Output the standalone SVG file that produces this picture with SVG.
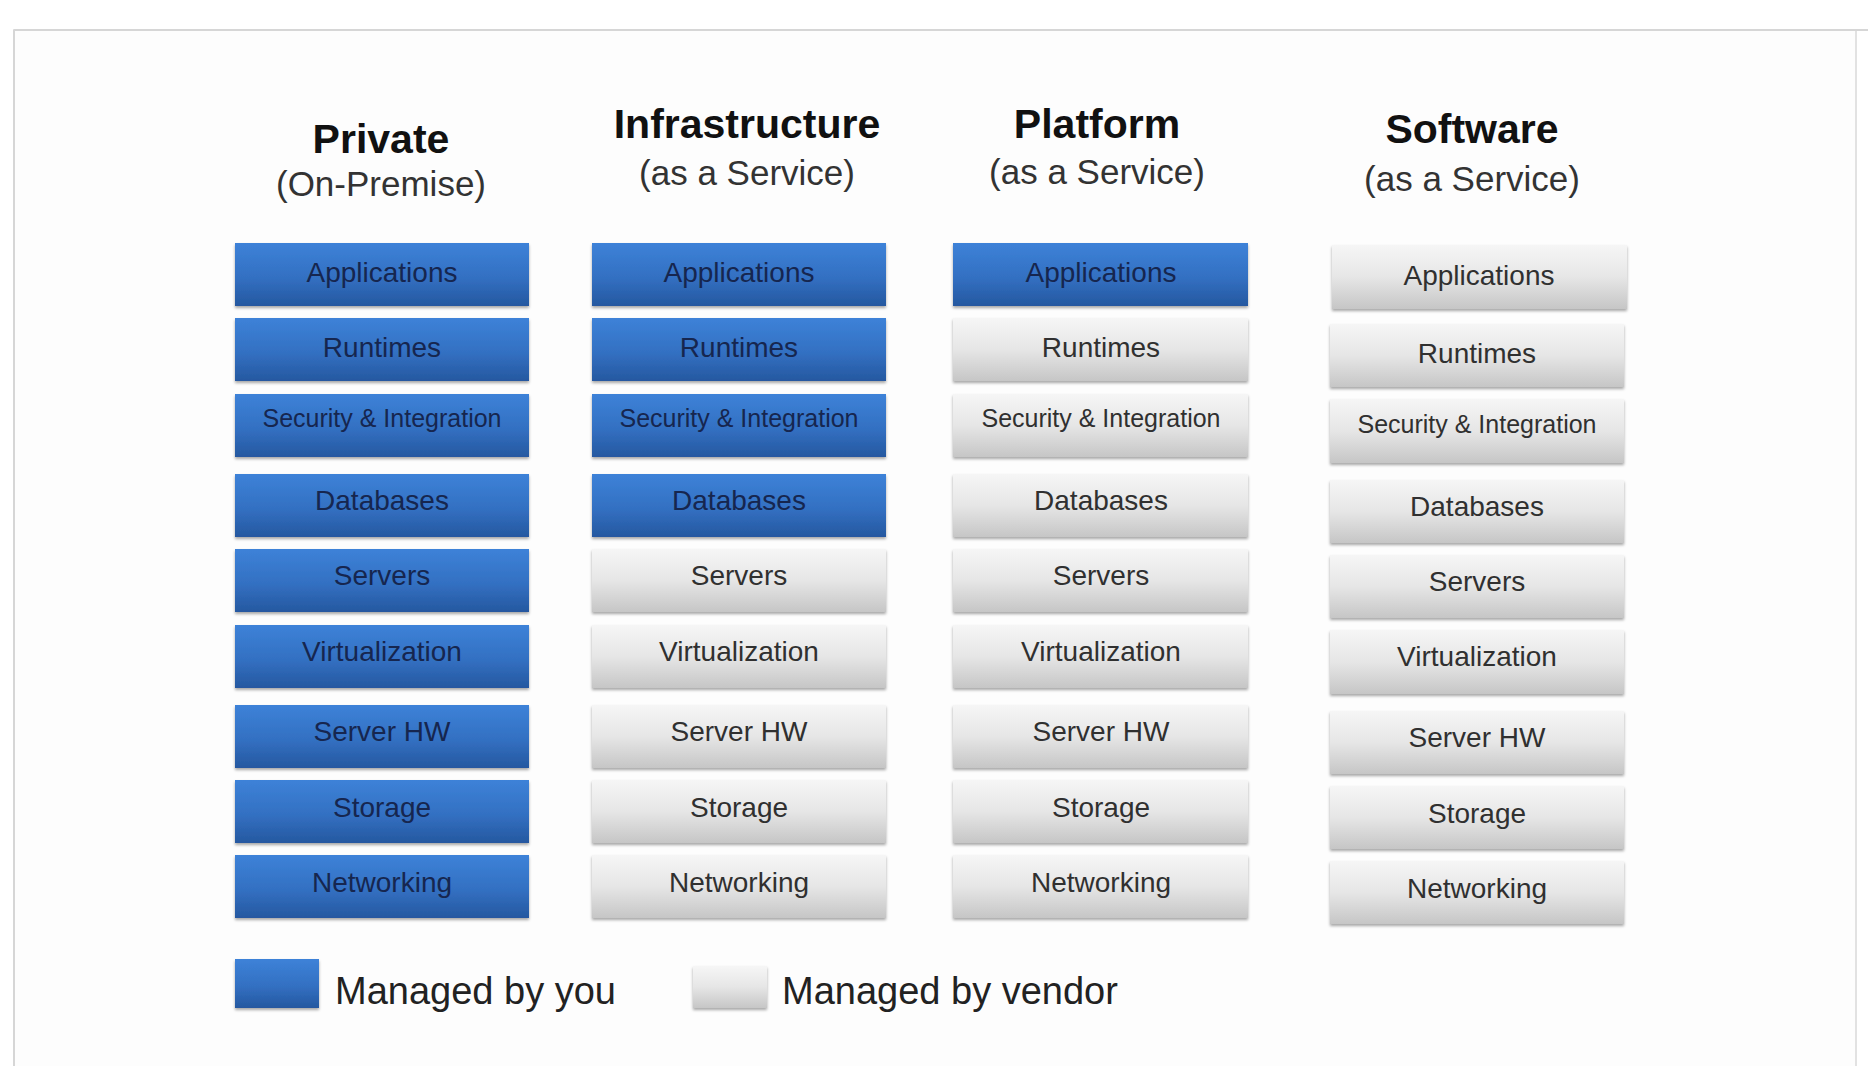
<svg xmlns="http://www.w3.org/2000/svg" width="1868" height="1066" viewBox="0 0 1868 1066">
<defs>
<linearGradient id="gBlue" x1="0" y1="0" x2="0" y2="1">
<stop offset="0" stop-color="#3d82d8"/>
<stop offset="0.55" stop-color="#3370c2"/>
<stop offset="1" stop-color="#2558a0"/>
</linearGradient>
<linearGradient id="gGray" x1="0" y1="0" x2="0" y2="1">
<stop offset="0" stop-color="#f6f6f6"/>
<stop offset="0.5" stop-color="#e6e6e6"/>
<stop offset="1" stop-color="#c6c6c6"/>
</linearGradient>
<filter id="sh" x="-5%" y="-15%" width="110%" height="135%">
<feGaussianBlur in="SourceAlpha" stdDeviation="1.5"/>
<feOffset dy="1.5" result="b"/>
<feComponentTransfer><feFuncA type="linear" slope="0.35"/></feComponentTransfer>
<feMerge><feMergeNode/><feMergeNode in="SourceGraphic"/></feMerge>
</filter>
</defs>
<style>
.b{fill:url(#gBlue);filter:url(#sh)}
.g{fill:url(#gGray);filter:url(#sh)}
.tb{font-family:"Liberation Sans",Arial,sans-serif;font-size:28px;fill:#16264f;text-anchor:middle}
.tg{font-family:"Liberation Sans",Arial,sans-serif;font-size:28px;fill:#303030;text-anchor:middle}
.sm{font-size:25px}
.h1{font-family:"Liberation Sans",Arial,sans-serif;font-size:41px;font-weight:bold;fill:#111;text-anchor:middle}
.h2{font-family:"Liberation Sans",Arial,sans-serif;font-size:35px;fill:#333;text-anchor:middle}
.lg{font-family:"Liberation Sans",Arial,sans-serif;font-size:38px;fill:#222}
</style>
<rect width="1868" height="1066" fill="#ffffff"/>
<rect x="14" y="30" width="1842" height="1040" fill="#fdfdfd" stroke="#e2e2e2" stroke-width="2"/>
<line x1="14" y1="30" x2="1868" y2="30" stroke="#d6d6d6" stroke-width="2"/>
<line x1="14" y1="30" x2="14" y2="1066" stroke="#d6d6d6" stroke-width="2"/>

<g id="headers">
<text class="h1" x="381" y="153">Private</text>
<text class="h2" x="381" y="196">(On-Premise)</text>
<text class="h1" x="747" y="138">Infrastructure</text>
<text class="h2" x="747" y="185">(as a Service)</text>
<text class="h1" x="1097" y="138">Platform</text>
<text class="h2" x="1097" y="184">(as a Service)</text>
<text class="h1" x="1472" y="143">Software</text>
<text class="h2" x="1472" y="191">(as a Service)</text>
</g>

<g id="col-private">
<g id="p-app"><rect class="b" x="235" y="243" width="294" height="63"/><text class="tb" x="382" y="282">Applications</text></g>
<g id="p-run"><rect class="b" x="235" y="318" width="294" height="63"/><text class="tb" x="382" y="357">Runtimes</text></g>
<g id="p-sec"><rect class="b" x="235" y="394" width="294" height="63"/><text class="tb sm" x="382" y="427">Security &amp; Integration</text></g>
<g id="p-db"><rect class="b" x="235" y="474" width="294" height="63"/><text class="tb" x="382" y="510">Databases</text></g>
<g id="p-srv"><rect class="b" x="235" y="549" width="294" height="63"/><text class="tb" x="382" y="585">Servers</text></g>
<g id="p-virt"><rect class="b" x="235" y="625" width="294" height="63"/><text class="tb" x="382" y="661">Virtualization</text></g>
<g id="p-hw"><rect class="b" x="235" y="705" width="294" height="63"/><text class="tb" x="382" y="741">Server HW</text></g>
<g id="p-sto"><rect class="b" x="235" y="780" width="294" height="63"/><text class="tb" x="382" y="817">Storage</text></g>
<g id="p-net"><rect class="b" x="235" y="855" width="294" height="63"/><text class="tb" x="382" y="892">Networking</text></g>
</g>

<g id="col-iaas">
<g id="i-app"><rect class="b" x="592" y="243" width="294" height="63"/><text class="tb" x="739" y="282">Applications</text></g>
<g id="i-run"><rect class="b" x="592" y="318" width="294" height="63"/><text class="tb" x="739" y="357">Runtimes</text></g>
<g id="i-sec"><rect class="b" x="592" y="394" width="294" height="63"/><text class="tb sm" x="739" y="427">Security &amp; Integration</text></g>
<g id="i-db"><rect class="b" x="592" y="474" width="294" height="63"/><text class="tb" x="739" y="510">Databases</text></g>
<g id="i-srv"><rect class="g" x="592" y="549" width="294" height="63"/><text class="tg" x="739" y="585">Servers</text></g>
<g id="i-virt"><rect class="g" x="592" y="625" width="294" height="63"/><text class="tg" x="739" y="661">Virtualization</text></g>
<g id="i-hw"><rect class="g" x="592" y="705" width="294" height="63"/><text class="tg" x="739" y="741">Server HW</text></g>
<g id="i-sto"><rect class="g" x="592" y="780" width="294" height="63"/><text class="tg" x="739" y="817">Storage</text></g>
<g id="i-net"><rect class="g" x="592" y="855" width="294" height="63"/><text class="tg" x="739" y="892">Networking</text></g>
</g>

<g id="col-paas">
<g id="pa-app"><rect class="b" x="953" y="243" width="295" height="63"/><text class="tb" x="1101" y="282">Applications</text></g>
<g id="pa-run"><rect class="g" x="953" y="318" width="295" height="63"/><text class="tg" x="1101" y="357">Runtimes</text></g>
<g id="pa-sec"><rect class="g" x="953" y="394" width="295" height="63"/><text class="tg sm" x="1101" y="427">Security &amp; Integration</text></g>
<g id="pa-db"><rect class="g" x="953" y="474" width="295" height="63"/><text class="tg" x="1101" y="510">Databases</text></g>
<g id="pa-srv"><rect class="g" x="953" y="549" width="295" height="63"/><text class="tg" x="1101" y="585">Servers</text></g>
<g id="pa-virt"><rect class="g" x="953" y="625" width="295" height="63"/><text class="tg" x="1101" y="661">Virtualization</text></g>
<g id="pa-hw"><rect class="g" x="953" y="705" width="295" height="63"/><text class="tg" x="1101" y="741">Server HW</text></g>
<g id="pa-sto"><rect class="g" x="953" y="780" width="295" height="63"/><text class="tg" x="1101" y="817">Storage</text></g>
<g id="pa-net"><rect class="g" x="953" y="855" width="295" height="63"/><text class="tg" x="1101" y="892">Networking</text></g>
</g>

<g id="col-saas">
<g id="s-app"><rect class="g" x="1332" y="245" width="295" height="64"/><text class="tg" x="1479" y="285">Applications</text></g>
<g id="s-run"><rect class="g" x="1330" y="324" width="294" height="63"/><text class="tg" x="1477" y="363">Runtimes</text></g>
<g id="s-sec"><rect class="g" x="1330" y="399" width="294" height="64"/><text class="tg sm" x="1477" y="433">Security &amp; Integration</text></g>
<g id="s-db"><rect class="g" x="1330" y="480" width="294" height="63"/><text class="tg" x="1477" y="516">Databases</text></g>
<g id="s-srv"><rect class="g" x="1330" y="555" width="294" height="63"/><text class="tg" x="1477" y="591">Servers</text></g>
<g id="s-virt"><rect class="g" x="1330" y="630" width="294" height="64"/><text class="tg" x="1477" y="666">Virtualization</text></g>
<g id="s-hw"><rect class="g" x="1330" y="711" width="294" height="63"/><text class="tg" x="1477" y="747">Server HW</text></g>
<g id="s-sto"><rect class="g" x="1330" y="786" width="294" height="63"/><text class="tg" x="1477" y="823">Storage</text></g>
<g id="s-net"><rect class="g" x="1330" y="861" width="294" height="63"/><text class="tg" x="1477" y="898">Networking</text></g>
</g>

<g id="legend">
<g id="leg-you"><rect class="b" x="235" y="959" width="84" height="49"/><text class="lg" x="335" y="1004">Managed by you</text></g>
<g id="leg-vendor"><rect class="g" x="693" y="966" width="74" height="42"/><text class="lg" x="782" y="1004">Managed by vendor</text></g>
</g>

<g id="connectors"></g>
</svg>
